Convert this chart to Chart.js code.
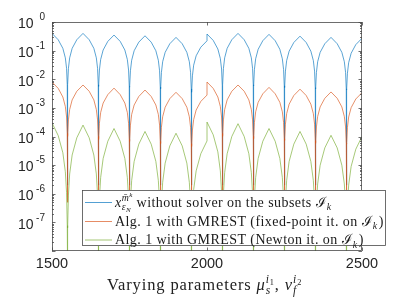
<!DOCTYPE html>
<html>
<head>
<meta charset="utf-8">
<script src="https://cdn.jsdelivr.net/npm/chart.js@4"></script>
<style>
  html, body { margin: 0; padding: 0; background: #fff; }
  #wrap { width: 399px; height: 299px; }
</style>
</head>
<body>
<div id="wrap"><canvas id="chart" width="399" height="299"></canvas></div>
<script>
// ── Data ─────────────────────────────────────────────────
// parameter values, shared by the three error curves (two points at 2000: jump)
var xVals = [
  1500, 1520, 1535, 1543, 1547, 1549.2, 1550, 1550.8, 1553, 1557, 1565, 1580,
  1600, 1620, 1635, 1643, 1647, 1649.2, 1650, 1650.8, 1653, 1657, 1665, 1680,
  1700, 1720, 1735, 1743, 1747, 1749.2, 1750, 1750.8, 1753, 1757, 1765, 1780,
  1800, 1820, 1835, 1843, 1847, 1849.2, 1850, 1850.8, 1853, 1857, 1865, 1880,
  1900, 1920, 1935, 1943, 1947, 1949.2, 1950, 1950.8, 1953, 1957, 1965, 1980,
  2000,
  2000, 2020, 2035, 2043, 2047, 2049.2, 2050, 2050.8, 2053, 2057, 2065, 2080,
  2100, 2120, 2135, 2143, 2147, 2149.2, 2150, 2150.8, 2153, 2157, 2165, 2180,
  2200, 2220, 2235, 2243, 2247, 2249.2, 2250, 2250.8, 2253, 2257, 2265, 2280,
  2300, 2320, 2335, 2343, 2347, 2349.2, 2350, 2350.8, 2353, 2357, 2365, 2380,
  2400, 2420, 2435, 2443, 2447, 2449.2, 2450, 2450.8, 2453, 2457, 2465, 2480,
  2500
];

// x without solver on the subsets
var errPlain = [
  0.40, 0.24, 0.12, 0.056, 0.024, 0.0064, 2e-6, 0.0064, 0.024, 0.056, 0.12, 0.24,
  0.40, 0.24, 0.12, 0.056, 0.024, 0.0064, 2e-6, 0.0056, 0.021, 0.049, 0.105, 0.21,
  0.35, 0.21, 0.105, 0.049, 0.021, 0.0056, 2e-6, 0.0053, 0.0198, 0.046, 0.099, 0.198,
  0.33, 0.198, 0.099, 0.046, 0.0198, 0.0053, 2e-6, 0.0046, 0.0174, 0.041, 0.087, 0.174,
  0.29, 0.174, 0.087, 0.041, 0.0174, 0.0046, 2e-6, 0.0035, 0.0132, 0.031, 0.066, 0.132,
  0.22,
  0.38, 0.228, 0.114, 0.053, 0.0228, 0.0061, 2e-6, 0.0064, 0.024, 0.056, 0.12, 0.24,
  0.40, 0.24, 0.12, 0.056, 0.024, 0.0064, 2e-6, 0.0059, 0.022, 0.052, 0.111, 0.222,
  0.37, 0.222, 0.111, 0.052, 0.022, 0.0059, 2e-6, 0.0051, 0.0192, 0.045, 0.096, 0.192,
  0.32, 0.192, 0.096, 0.045, 0.0192, 0.0051, 2e-6, 0.0046, 0.0174, 0.041, 0.087, 0.174,
  0.29, 0.174, 0.087, 0.041, 0.0174, 0.0046, 2e-6, 0.0043, 0.0162, 0.038, 0.081, 0.162,
  0.27
];

// Alg. 1, fixed-point iteration
var errFixedPoint = [
  0.008, 0.0048, 0.0024, 0.00112, 0.00048, 0.000128, 5e-7, 0.000101, 0.00038, 0.00088, 0.0019, 0.0038,
  0.0063, 0.0038, 0.0019, 0.00088, 0.00038, 0.000101, 5e-7, 0.0000784, 0.00029, 0.00069, 0.00147, 0.0029,
  0.0049, 0.0029, 0.00147, 0.00069, 0.00029, 0.0000784, 5e-7, 0.0000672, 0.00025, 0.00059, 0.00126, 0.0025,
  0.0042, 0.0025, 0.00126, 0.00059, 0.00025, 0.0000672, 5e-7, 0.000056, 0.00021, 0.00049, 0.00105, 0.0021,
  0.0035, 0.0021, 0.00105, 0.00049, 0.00021, 0.000056, 5e-7, 0.0000448, 0.000168, 0.00039, 0.00084, 0.00168,
  0.0028,
  0.008, 0.0048, 0.0024, 0.00112, 0.00048, 0.000128, 5e-7, 0.000101, 0.00038, 0.00088, 0.0019, 0.0038,
  0.0063, 0.0038, 0.0019, 0.00088, 0.00038, 0.000101, 5e-7, 0.0000832, 0.00031, 0.00073, 0.00156, 0.0031,
  0.0052, 0.0031, 0.00156, 0.00073, 0.00031, 0.0000832, 5e-7, 0.000072, 0.00027, 0.00063, 0.00135, 0.0027,
  0.0045, 0.0027, 0.00135, 0.00063, 0.00027, 0.000072, 5e-7, 0.0000576, 0.000216, 0.0005, 0.00108, 0.00216,
  0.0036, 0.00216, 0.00108, 0.0005, 0.000216, 0.0000576, 5e-7, 0.0000544, 0.000204, 0.00048, 0.00102, 0.00204,
  0.0034
];

// Alg. 1, Newton iteration
var errNewton = [
  3.0e-4, 1.08e-4, 2.7e-5, 5.9e-6, 1.08e-6, 7.7e-8, 1e-9, 6.4e-8, 9e-7, 4.9e-6, 2.25e-5, 9e-5,
  2.5e-4, 9e-5, 2.25e-5, 4.9e-6, 9e-7, 6.4e-8, 1e-9, 4.9e-8, 6.8e-7, 3.7e-6, 1.71e-5, 6.8e-5,
  1.9e-4, 6.8e-5, 1.71e-5, 3.7e-6, 6.8e-7, 4.9e-8, 1e-9, 3.8e-8, 5.4e-7, 2.9e-6, 1.35e-5, 5.4e-5,
  1.5e-4, 5.4e-5, 1.35e-5, 2.9e-6, 5.4e-7, 3.8e-8, 1e-9, 3.3e-8, 4.7e-7, 2.5e-6, 1.17e-5, 4.7e-5,
  1.3e-4, 4.7e-5, 1.17e-5, 2.5e-6, 4.7e-7, 3.3e-8, 1e-9, 1.8e-8, 2.5e-7, 1.4e-6, 6.3e-6, 2.5e-5,
  7e-5,
  3.2e-4, 1.15e-4, 2.9e-5, 6.3e-6, 1.15e-6, 8.2e-8, 1e-9, 7.2e-8, 1.0e-6, 5.5e-6, 2.5e-5, 1.0e-4,
  2.8e-4, 1.0e-4, 2.5e-5, 5.5e-6, 1.0e-6, 7.2e-8, 1e-9, 4.9e-8, 6.8e-7, 3.7e-6, 1.71e-5, 6.8e-5,
  1.9e-4, 6.8e-5, 1.71e-5, 3.7e-6, 6.8e-7, 4.9e-8, 1e-9, 3.8e-8, 5.4e-7, 2.9e-6, 1.35e-5, 5.4e-5,
  1.5e-4, 5.4e-5, 1.35e-5, 2.9e-6, 5.4e-7, 3.8e-8, 1e-9, 2.8e-8, 4.0e-7, 2.2e-6, 9.9e-6, 4.0e-5,
  1.1e-4, 4.0e-5, 9.9e-6, 2.2e-6, 4.0e-7, 2.8e-8, 1e-9, 2.6e-8, 3.6e-7, 2.0e-6, 9e-6, 3.6e-5,
  1.0e-4
];

var xTicks = [1500, 2000, 2500];
var yTickExp = [0, -1, -2, -3, -4, -5, -6, -7];
var seriesColors = ['#0072bd', '#d95319', '#77ac30'];

// ── Rich text (sub/superscripts) ─────────────────────────
var SERIF = '"Liberation Serif", "DejaVu Serif", serif';
var SANS = '"Liberation Sans", Arial, sans-serif';

// parts: {t, i: italic, s: scale, dy/dx: offset in em, back: start at end of base, cont: continue}
function drawRich(ctx, x, y, parts, size, draw) {
  var far = x, mark = x, cur = x;
  parts.forEach(function (p) {
    var fs = size * (p.s || 1);
    ctx.font = (p.i ? 'italic ' : '') + fs.toFixed(2) + 'px ' + SERIF;
    if (p.back) cur = mark;
    else if (!p.cont) cur = far;
    cur += (p.dx || 0) * size;
    if (draw) ctx.fillText(p.t, cur, y + (p.dy || 0) * size);
    cur += ctx.measureText(p.t).width;
    if (!p.back && !p.cont) mark = cur;
    far = Math.max(far, cur);
  });
  return far - x;
}

var subK = { t: 'k', i: 1, s: 0.7, dy: 0.25, dx: 0.06, back: 1 };
var legendRows = [
  [{ t: 'x', i: 1 }, { t: '\u03b5', i: 1, s: 0.7, dy: 0.28, back: 1 }, { t: 'N', i: 1, s: 0.5, dy: 0.38, cont: 1 },
   { t: 'm\u0304', i: 1, s: 0.7, dy: -0.42, back: 1 }, { t: 'k', i: 1, s: 0.5, dy: -0.66, cont: 1 },
   { t: ' without solver on the subsets ' }, { t: '\u2110' }, subK],
  [{ t: 'Alg. 1 with GMREST (fixed-point it. on ' }, { t: '\u2110' }, subK, { t: ')', dx: 0.08 }],
  [{ t: 'Alg. 1 with GMREST (Newton it. on ' }, { t: '\u2110' }, subK, { t: ')', dx: 0.08 }]
];
var xTitle = [
  { t: 'Varying parameters ' }, { t: '\u03bc', i: 1 },
  { t: 's', i: 1, s: 0.7, dy: 0.28, back: 1 }, { t: 'i', i: 1, s: 0.7, dy: -0.42, back: 1 }, { t: '1', s: 0.5, dy: -0.3, cont: 1 },
  { t: ', ' }, { t: '\u03bd', i: 1 },
  { t: 'f', i: 1, s: 0.7, dy: 0.3, back: 1 }, { t: 'i', i: 1, s: 0.7, dy: -0.42, back: 1 }, { t: '2', s: 0.5, dy: -0.3, cont: 1 }
];

// stretch text to the reference width by a little letter spacing
function fitSpacing(ctx, parts, size, target) {
  ctx.letterSpacing = '0px';
  var w = drawRich(ctx, 0, 0, parts, size, false);
  var n = parts.reduce(function (s, p) { return s + p.t.length; }, 0);
  return Math.max(0, (target - w) / n);
}

// ── MATLAB-like axes, ticks, legend ──────────────────────
var axesPlugin = {
  id: 'matlabAxes',
  afterDatasetsDraw: function (chart) {
    var ctx = chart.ctx, a = chart.chartArea;
    var sx = chart.scales.x, sy = chart.scales.y;
    ctx.save();
    ctx.strokeStyle = '#4a4a4a';
    ctx.lineWidth = 0.8;
    ctx.strokeRect(a.left + 0.5, a.top + 0.5, a.right - a.left - 1, a.bottom - a.top - 1);

    // y ticks (major + minor), both sides, pointing inward
    ctx.beginPath();
    for (var e = -8; e <= 0; e++) {
      for (var k = 1; k <= 9; k++) {
        var v = k * Math.pow(10, e);
        if (v > 1.0001) break;
        var py = Math.round(sy.getPixelForValue(v)) + 0.5;
        var len = k === 1 ? 3.5 : 2;
        ctx.moveTo(a.left, py); ctx.lineTo(a.left + len, py);
        ctx.moveTo(a.right, py); ctx.lineTo(a.right - len, py);
      }
    }
    xTicks.forEach(function (t) {
      var px = Math.round(sx.getPixelForValue(t)) + 0.5;
      ctx.moveTo(px, a.bottom); ctx.lineTo(px, a.bottom - 3.5);
      ctx.moveTo(px, a.top); ctx.lineTo(px, a.top + 3.5);
    });
    ctx.stroke();

    // tick labels
    ctx.fillStyle = '#262626';
    ctx.textBaseline = 'middle';
    yTickExp.forEach(function (ex) {
      var py = sy.getPixelForValue(Math.pow(10, ex));
      ctx.textAlign = 'right';
      ctx.font = '14px ' + SANS;
      ctx.fillText('10', 33.5, py + 2.5);
      ctx.font = '10px ' + SANS;
      ctx.fillText(String(ex), 45, py - 4.5);
    });
    ctx.textAlign = 'center';
    ctx.font = '14.5px ' + SANS;
    xTicks.forEach(function (t) {
      ctx.fillText(String(t), sx.getPixelForValue(t), 263.5);
    });

    // x-axis title
    ctx.textAlign = 'left';
    ctx.textBaseline = 'alphabetic';
    ctx.fillStyle = '#222';
    var tSize = 16.5;
    ctx.letterSpacing = fitSpacing(ctx, xTitle, tSize, 197).toFixed(2) + 'px';
    drawRich(ctx, 107, 289.5, xTitle, tSize, true);

    // legend box
    var box = { l: 82, t: 190, r: 386, b: 246 };
    ctx.fillStyle = '#fff';
    ctx.fillRect(box.l, box.t, box.r - box.l, box.b - box.t);
    ctx.strokeStyle = '#4a4a4a';
    ctx.lineWidth = 0.8;
    ctx.strokeRect(box.l + 0.5, box.t + 0.5, box.r - box.l - 1, box.b - box.t - 1);
    var lSize = 14;
    var sp = fitSpacing(ctx, legendRows[1], lSize, 269);
    var rowY = [202, 221, 239.5];
    legendRows.forEach(function (row, i) {
      ctx.strokeStyle = seriesColors[i];
      ctx.globalAlpha = 0.75;
      ctx.lineWidth = 0.9;
      ctx.beginPath();
      ctx.moveTo(85, rowY[i] + 0.5); ctx.lineTo(112, rowY[i] + 0.5);
      ctx.stroke();
      ctx.globalAlpha = 1;
      ctx.fillStyle = '#1a1a1a';
      ctx.letterSpacing = sp.toFixed(2) + 'px';
      drawRich(ctx, 115, rowY[i] + 4.5, row, lSize, true);
    });
    ctx.letterSpacing = '0px';
    ctx.restore();
  }
};

function pts(ys) {
  return xVals.map(function (x, i) { return { x: x, y: ys[i] }; });
}

var labels = ['without solver', 'fixed-point', 'Newton'];
var series = [errPlain, errFixedPoint, errNewton];

new Chart(document.getElementById('chart'), {
  type: 'line',
  data: {
    datasets: series.map(function (ys, i) {
      return {
        label: labels[i],
        data: pts(ys),
        borderColor: seriesColors[i],
        borderWidth: 0.65,
        pointRadius: 0,
        tension: 0,
        order: 3 - i
      };
    })
  },
  options: {
    responsive: false,
    animation: false,
    events: [],
    layout: { padding: { left: 52, right: 37, top: 22, bottom: 48 } },
    plugins: { legend: { display: false }, tooltip: { enabled: false } },
    scales: {
      x: { type: 'linear', min: 1500, max: 2500, display: false },
      y: { type: 'logarithmic', min: 1e-8, max: 1, display: false }
    }
  },
  plugins: [axesPlugin]
});
</script>
</body>
</html>
